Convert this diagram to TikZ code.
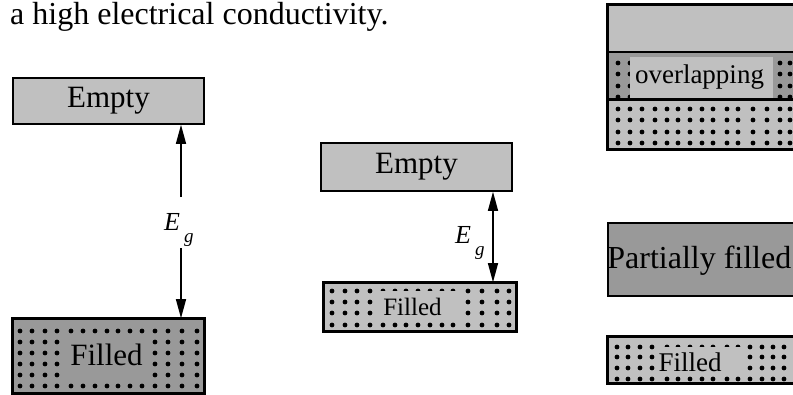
\documentclass[tikz,border=0pt]{standalone}
\usepackage{fontspec}
\setmainfont{Liberation Serif}
\usetikzlibrary{arrows.meta}
\definecolor{lgray}{HTML}{C0C0C0}
\definecolor{dgray}{HTML}{999999}
\newcommand\fsz[1]{\fontsize{#1}{#1}\selectfont}
\begin{document}
\begin{tikzpicture}[x=1pt,y=-1pt,
  bx/.style={draw=black, line width=1.6pt, inner sep=0pt, minimum width=191pt},
  bg/.style={inner sep=0pt, draw=none},
  txt/.style={inner sep=0pt, anchor=base},
  dt/.style={fill=black},
  arr/.style={line width=1.3pt, -{Triangle[length=19pt,width=10pt]}},
  darr/.style={line width=1.3pt, {Triangle[length=19pt,width=10pt]}-{Triangle[length=19pt,width=10pt]}}]
\useasboundingbox (0,0) rectangle (793,394);
\clip (0,0) rectangle (793,394);

\node[inner sep=0pt, anchor=base west, font=\fsz{32}] (title) at (10,24) {a high electrical conductivity.};

% ---- left: insulator
\node[bx, fill=lgray, minimum height=46pt, font=\fsz{31}] (e1) at (108.5,101) {Empty};
\node[bx, fill=dgray, minimum height=74pt] (f1) at (108.5,356) {};
\foreach \x in {20,32,45,57,71,83,95,107,118,130,142,155,168,182,197}
  \foreach \y in {331,342,353,364,375,386}
    \fill[dt] (\x,\y) circle (2.4pt);
\node[bg, fill=dgray, minimum width=89pt, minimum height=43pt] (f1bg) at (105.5,358.5) {};
\node[txt, font=\fsz{31}] (f1t) at (106.5,365) {Filled};
\draw[line width=1.6pt] (f1.north west) rectangle (f1.south east);

\coordinate (u1) at (181,197);
\coordinate (d1) at (181,248);
\draw[arr] (u1) -- (u1 |- e1.south);
\draw[arr] (d1) -- (d1 |- f1.north);
\node[inner sep=0pt, anchor=base west] (eg1) at (164,230) {\fsz{26}\itshape E\hspace{4pt}\raisebox{-12pt}{\fsz{19}g}};

% ---- middle: semiconductor
\node[bx, fill=lgray, minimum height=48pt, font=\fsz{31}] (e2) at (416.5,167) {Empty};
\node[bx, fill=lgray, minimum width=192pt, minimum height=48pt] (f2) at (420,307) {};
\foreach \x in {332,345,357,370,383,395,406,418,430,442,453,468,482,497,509}
  \foreach \y in {291,302,313,325}
    \fill[dt] (\x,\y) circle (2.4pt);
\node[bg, fill=lgray, minimum width=87pt, minimum height=30pt] (f2bg) at (417.5,306) {};
\node[txt, font=\fsz{25}] (f2t) at (412.5,315) {Filled};
\draw[line width=1.6pt] (f2.north west) rectangle (f2.south east);

\coordinate (m2) at (493,237);
\draw[darr] (m2 |- e2.south) -- (m2 |- f2.north);
\node[inner sep=0pt, anchor=base west] (eg2) at (455,243) {\fsz{26}\itshape E\hspace{4pt}\raisebox{-12pt}{\fsz{19}g}};

% ---- right top: overlapping bands
\node[bx, fill=lgray, minimum width=192pt, minimum height=47pt] (cb) at (704,28.5) {};
\node[bx, fill=dgray, minimum width=192pt, minimum height=48pt] (ob) at (704,76) {};
\node[bx, fill=lgray, minimum width=192pt, minimum height=49pt] (vb) at (704,124.5) {};
\foreach \x in {618,630,642,655,667,678,690,702,713,727,738,753,767,780,790}
  \foreach \y in {63,74,86,97,109,120,132,143}
    \fill[dt] (\x,\y) circle (2.4pt);
\node[bg, fill=lgray, minimum width=143pt, minimum height=42pt] (ovbg) at (701.5,78) {};
\node[txt, font=\fsz{27}] (ov) at (699.5,83) {overlapping};
\draw[line width=1.6pt] (cb.north west) rectangle (vb.south east);
\draw[line width=1.2pt] (cb.south west) -- (cb.south east);
\draw[line width=1.8pt] (vb.north west) -- (vb.north east);

% ---- right bottom: metal
\node[bx, fill=dgray, minimum width=192pt, minimum height=73pt] (pf) at (704,259.5) {};
\node[inner sep=0pt, anchor=base east, font=\fsz{32}] (pft) at (791.5,268) {Partially filled};
\node[bx, fill=lgray, minimum width=192pt, minimum height=46pt] (f3) at (704,360) {};
\foreach \x in {617,628,640,652,667,678,690,702,713,727,738,750,762,773,784}
  \foreach \y in {347,357,368,379}
    \fill[dt] (\x,\y) circle (2.4pt);
\node[bg, fill=lgray, minimum width=90pt, minimum height=28pt] (f3bg) at (701,361) {};
\node[txt, font=\fsz{27}] (f3t) at (690,371) {Filled};
\draw[line width=1.6pt] (f3.north west) rectangle (f3.south east);
\end{tikzpicture}
\end{document}
